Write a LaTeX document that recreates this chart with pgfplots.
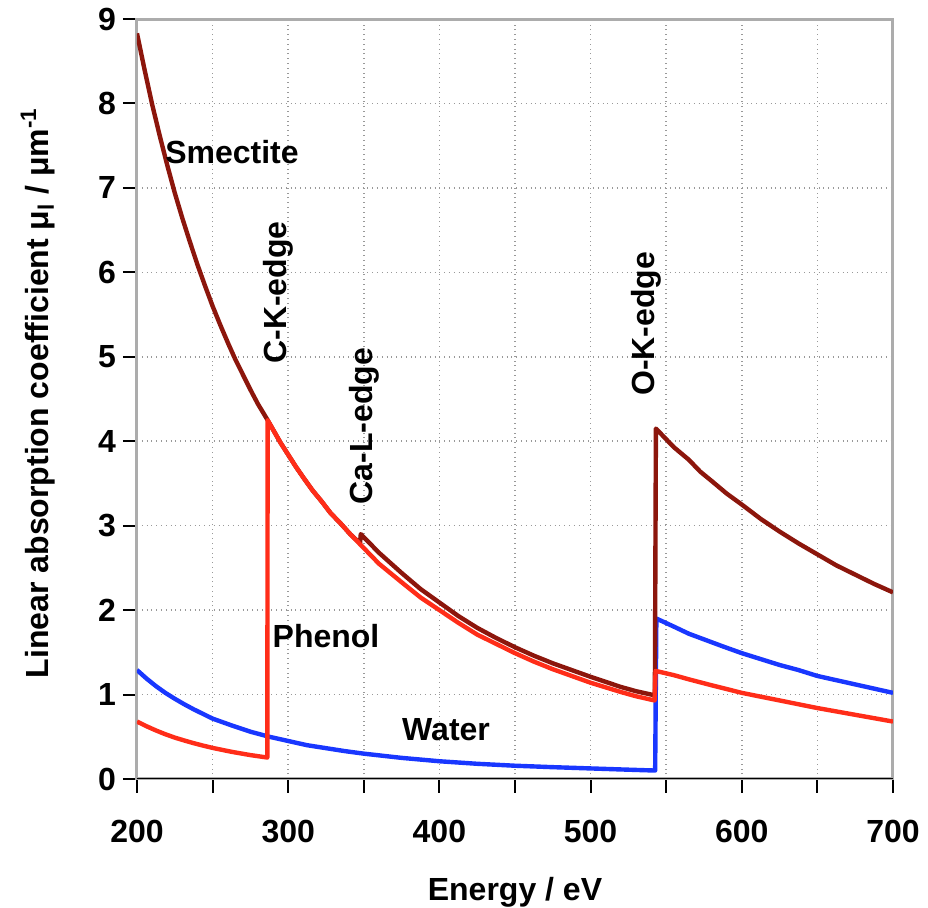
\documentclass[border=0pt]{standalone}
\usepackage{fontspec}
\setmainfont{Liberation Sans}
\usepackage{pgfplots}
\pgfplotsset{compat=1.18}
\definecolor{smect}{RGB}{140,22,12}
\definecolor{phen}{RGB}{255,45,25}
\definecolor{wat}{RGB}{25,55,255}
\newcommand{\bigbf}{\bfseries\fontsize{16}{19}\selectfont}
\begin{document}
\begin{tikzpicture}
\path[use as bounding box] (-68.5pt,-64.5pt) rectangle (395.5pt,389.5pt);
\begin{axis}[
  scale only axis, width=378pt, height=380pt,
  xmin=200, xmax=700, ymin=0, ymax=9,
  xtick={200,250,...,700},
  xticklabels={200,,300,,400,,500,,600,,700},
  ytick={0,1,...,9},
  tick align=outside, tick pos=left,
  major tick length=7pt,
  every tick/.style={black, line width=1pt},
  grid=major,
  major grid style={dotted, gray!80, line width=0.8pt},
  axis line style={gray!65, line width=1.5pt},
  tick label style={font=\bigbf},
  xticklabel style={yshift=-10pt},
  /pgf/number format/assume math mode=true,
  xlabel={Energy / eV},
  ylabel={Linear absorption coefficient μ\textsubscript{l} / μm\textsuperscript{-1}},
  every axis x label/.style={at={(axis description cs:0.5,-0.149)}, anchor=center, font=\bigbf},
  every axis y label/.style={at={(axis description cs:-0.131,0.508)}, rotate=90, anchor=center, font=\bigbf},
  every axis plot/.append style={line width=2.2pt, line join=round, no marks},
]
\draw[black, line width=1pt] (rel axis cs:0,0) -- (rel axis cs:1,0);
% Water
\addplot[wat] coordinates {
(200,1.29) (206.25,1.19) (212.5,1.10) (218.75,1.02) (225,0.95) (231.25,0.885) (237.5,0.825)
(243.75,0.77) (250,0.715) (262.5,0.635) (275,0.56) (287.5,0.50) (300,0.45) (312.5,0.40)
(325,0.365) (337.5,0.33) (350,0.30) (375,0.25) (400,0.21) (425,0.18) (450,0.157) (475,0.14)
(500,0.125) (520,0.113) (542.7,0.10) (543.5,1.90) (555,1.805) (565,1.72) (580,1.62)
(587.5,1.57) (600,1.49) (612.5,1.42) (625,1.35) (637.5,1.29) (650,1.22) (662.5,1.17)
(675,1.12) (687.5,1.07) (700,1.02)
};
% Smectite
\addplot[smect] coordinates {
(200,8.83) (205,8.40) (210,7.99) (215,7.62) (220,7.27) (225,6.94) (230,6.64) (235,6.36)
(240,6.09) (245,5.84) (250,5.60) (255,5.38) (260,5.17) (265,4.97) (270,4.79) (275,4.61)
(280,4.44) (286.4,4.25) (295,3.98) (300,3.84) (305,3.70) (310,3.57) (316,3.42) (322,3.29)
(328,3.15) (335,3.02) (341,2.90) (347.5,2.79)
(348,2.90) (360,2.68) (375,2.44) (387.5,2.25) (400,2.09) (412.5,1.93) (425,1.79) (437.5,1.67)
(450,1.56) (462.5,1.46) (475,1.37) (487.5,1.29) (500,1.21) (510,1.15) (520,1.09) (530,1.04)
(542.5,0.99) (543.2,4.15) (555,3.93) (565,3.78) (572.5,3.64) (580,3.53) (590,3.38) (600,3.25)
(612.5,3.08) (625,2.93) (637.5,2.79) (650,2.66) (662.5,2.53) (675,2.42) (687.5,2.31) (700,2.21)
};
% Phenol
\addplot[phen] coordinates {
(200,0.68) (206.25,0.625) (212.5,0.575) (218.75,0.53) (225,0.49) (231.25,0.456) (237.5,0.424)
(243.75,0.395) (250,0.368) (262.5,0.322) (275,0.283) (286.2,0.254)
(286.4,4.25) (295,3.98) (300,3.84) (305,3.70) (310,3.57) (316,3.42) (322,3.29) (328,3.15)
(335,3.02) (341,2.90) (347,2.79) (360,2.55) (375,2.33) (387.5,2.15) (400,2.00) (412.5,1.85)
(425,1.71) (437.5,1.60) (450,1.49) (462.5,1.39) (475,1.30) (487.5,1.22) (500,1.14)
(510,1.085) (520,1.03) (530,0.98) (542.3,0.93)
(543,1.28) (555,1.23) (565,1.18) (580,1.11) (600,1.02) (612.5,0.975) (625,0.93) (637.5,0.885)
(650,0.84) (662.5,0.80) (675,0.76) (687.5,0.72) (700,0.68)
};
\begin{scope}[every node/.style={font=\bigbf, inner sep=0pt}]
\node at (axis cs:262.8,7.43) {Smectite};
\node[rotate=90] at (axis cs:293.3,5.76) {C-K-edge};
\node[rotate=90] at (axis cs:350.1,4.18) {Ca-L-edge};
\node[rotate=90] at (axis cs:536.6,5.39) {O-K-edge};
\node at (axis cs:325,1.69) {Phenol};
\node at (axis cs:404.4,0.58) {Water};
\end{scope}
\end{axis}
\end{tikzpicture}
\end{document}
